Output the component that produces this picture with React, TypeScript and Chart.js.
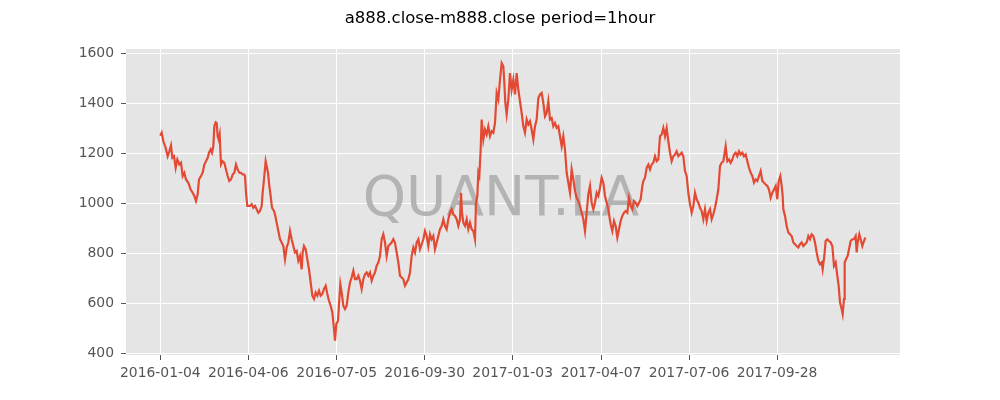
import React, { useEffect, useRef } from "react";
import { Chart, registerables } from "chart.js";

Chart.register(...registerables);

const chartTitle = "a888.close-m888.close period=1hour";
const watermarkText = "QUANT.LA";

const tickLabels = [
  "2016-01-04",
  "2016-04-06",
  "2016-07-05",
  "2016-09-30",
  "2017-01-03",
  "2017-04-07",
  "2017-07-06",
  "2017-09-28",
];
const tickIndex = [0, 264, 529, 793, 1057, 1322, 1586, 1850];
const yTicks = [400, 600, 800, 1000, 1200, 1400, 1600];

const barIndex = [
  0, 4, 9, 16, 22, 27, 32, 36, 41, 46, 51, 57, 62, 67, 72, 77, 84, 91, 97, 102,
  107, 112, 116, 122, 127, 132, 137, 142, 146, 151, 155, 159, 162, 166, 169, 172,
  175, 178, 182, 187, 192, 197, 202, 207, 212, 217, 222, 227, 232, 237, 242, 247,
  252, 254, 257, 261, 269, 274, 279, 284, 289, 294, 299, 304, 307, 311, 316, 319,
  323, 327, 331, 335, 341, 345, 349, 354, 359, 364, 369, 374, 379, 384, 389, 394,
  399, 404, 409, 414, 419, 424, 427, 431, 436, 441, 446, 451, 456, 461, 466, 471,
  476, 481, 486, 491, 496, 501, 506, 511, 516, 521, 524, 528, 533, 537, 540, 544,
  549, 554, 559, 564, 569, 574, 579, 584, 589, 594, 599, 604, 609, 614, 619, 624,
  629, 634, 639, 644, 649, 654, 659, 664, 669, 674, 679, 684, 689, 694, 699, 704,
  709, 714, 719, 724, 729, 734, 739, 744, 749, 754, 759, 764, 769, 774, 779, 784,
  789, 794, 799, 804, 809, 814, 819, 824, 829, 834, 839, 844, 849, 854, 859, 864,
  869, 874, 879, 884, 889, 894, 899, 902, 905, 909, 914, 919, 924, 929, 934, 939,
  944, 947, 951, 954, 957, 961, 964, 969, 974, 979, 984, 989, 994, 999, 1004, 1009,
  1014, 1019, 1024, 1029, 1032, 1035, 1039, 1044, 1049, 1054, 1059, 1064, 1069,
  1074, 1079, 1084, 1089, 1094, 1099, 1104, 1109, 1114, 1119, 1124, 1129, 1134,
  1139, 1144, 1149, 1154, 1159, 1164, 1169, 1174, 1179, 1184, 1189, 1194, 1199,
  1204, 1209, 1214, 1219, 1224, 1229, 1234, 1239, 1244, 1249, 1254, 1259, 1264,
  1269, 1274, 1279, 1284, 1289, 1294, 1299, 1304, 1309, 1314, 1319, 1324, 1329,
  1334, 1339, 1344, 1347, 1351, 1356, 1361, 1366, 1371, 1376, 1381, 1386, 1391,
  1396, 1401, 1406, 1411, 1416, 1421, 1426, 1431, 1436, 1441, 1446, 1449, 1454,
  1459, 1464, 1469, 1474, 1479, 1484, 1489, 1494, 1499, 1504, 1509, 1514, 1519,
  1524, 1529, 1534, 1539, 1544, 1549, 1554, 1559, 1564, 1569, 1574, 1579, 1584,
  1589, 1594, 1599, 1604, 1609, 1614, 1619, 1624, 1629, 1634, 1639, 1644, 1649,
  1654, 1659, 1664, 1669, 1674, 1679, 1684, 1689, 1696, 1701, 1706, 1711, 1716,
  1721, 1726, 1731, 1736, 1741, 1746, 1751, 1756, 1761, 1766, 1771, 1776, 1781,
  1786, 1791, 1796, 1801, 1806, 1811, 1816, 1821, 1826, 1831, 1836, 1841, 1846,
  1851, 1855, 1860, 1864, 1867, 1869, 1874, 1879, 1884, 1889, 1894, 1899, 1904,
  1909, 1914, 1919, 1924, 1929, 1934, 1939, 1944, 1949, 1954, 1959, 1964, 1969,
  1974, 1979, 1984, 1987, 1992, 1996, 2001, 2006, 2011, 2016, 2021, 2026, 2031,
  2035, 2039, 2044, 2047, 2051, 2053, 2057, 2062, 2066, 2071, 2076, 2081, 2086,
  2089, 2092, 2097, 2101, 2106, 2111, 2115,
];

const spread = [
  1270, 1282, 1248, 1222, 1188, 1208, 1231, 1182, 1188, 1142, 1175, 1155, 1162, 1109, 1122, 1095, 1082, 1055, 1042, 1029,
  1009, 1036, 1095, 1109, 1122, 1155, 1168, 1182, 1202, 1215, 1202, 1228, 1308, 1324, 1321, 1268,
  1255, 1275, 1155, 1168, 1162, 1135, 1109, 1089, 1095, 1115, 1122, 1155, 1135, 1122, 1122, 1115,
  1115, 1109, 1042, 989, 989, 996, 982, 989, 976, 962, 969, 989, 1042, 1095, 1168, 1149,
  1122, 1069, 1029, 982, 969, 949, 922, 889, 856, 843, 829, 776, 823, 843, 889, 856,
  829, 803, 809, 770, 789, 736, 803, 829, 816, 776, 736, 683, 630, 617, 643, 630,
  650, 630, 637, 657, 670, 637, 610, 590, 563, 497, 450, 517, 530, 617, 676, 643,
  590, 577, 590, 643, 683, 703, 730, 696, 696, 710, 690, 657, 696, 716, 723, 710,
  723, 690, 710, 723, 750, 763, 789, 856, 876, 843, 789, 829, 836, 843, 856, 843,
  803, 763, 710, 703, 696, 670, 683, 696, 723, 789, 823, 803, 843, 856, 816, 836,
  856, 889, 869, 829, 876, 856, 869, 816, 843, 869, 896, 909, 936, 909, 896, 936,
  962, 976, 956, 949, 936, 909, 936, 1042, 962, 922, 909, 936, 896, 922, 896, 889,
  856, 1002, 1029, 1122, 1109, 1215, 1335, 1255, 1295, 1275, 1308, 1268, 1288, 1282, 1321, 1441,
  1415, 1494, 1561, 1548, 1481, 1401, 1355, 1415, 1521, 1454, 1494, 1435, 1521,
  1454, 1408, 1361, 1308, 1282, 1335, 1315, 1328, 1295, 1255, 1308, 1335, 1421,
  1435, 1441, 1401, 1348, 1361, 1408, 1335, 1341, 1308, 1321, 1302, 1308, 1268,
  1228, 1268, 1215, 1122, 1082, 1042, 1135, 1095, 1049, 1022, 1009, 989, 962,
  936, 889, 962, 1036, 1069, 1002, 976, 1002, 1042, 1029, 1062, 1102, 1082,
  1029, 1002, 976, 949, 916, 889, 929, 909, 863, 896, 929, 949, 962,
  969, 962, 1022, 989, 976, 1009, 1002, 989, 1002, 1016, 1069, 1089, 1102,
  1142, 1155, 1135, 1155, 1162, 1188, 1168, 1175, 1268, 1275, 1301, 1268, 1301,
  1248, 1202, 1168, 1188, 1195, 1208, 1188, 1195, 1202, 1188, 1129, 1109, 1042,
  996, 962, 989, 1042, 1016, 1002, 982, 969, 936, 976, 929, 962, 976,
  936, 956, 982, 1016, 1055, 1149, 1162, 1168, 1228, 1168, 1175, 1162, 1175,
  1195, 1202, 1188, 1208, 1195, 1202, 1188, 1195, 1168, 1142, 1122, 1109, 1082,
  1095, 1089, 1109, 1129, 1089, 1082, 1075, 1069, 1055, 1022, 1042, 1055, 1069,
  1016, 1089, 1109, 1069, 1029, 976, 949, 909, 883, 876, 869, 843, 836,
  829, 823, 836, 843, 829, 836, 843, 869, 856, 876, 869, 843, 803,
  770, 756, 763, 736, 789, 849, 856, 849, 843, 829, 750, 763, 710,
  670, 603, 577, 557, 617, 763, 776, 789, 816, 849, 856, 856, 869,
  803, 843, 876, 856, 829, 849, 863,
];

export default function App() {
  const ref = useRef<HTMLCanvasElement>(null);

  useEffect(() => {
    if (!ref.current) return;
    const points = barIndex.map((x, i) => ({ x, y: spread[i] }));

    const decor = {
      id: "decor",
      beforeDraw(chart: any) {
        const { ctx, chartArea: a } = chart;
        ctx.save();
        ctx.fillStyle = "#E5E5E5";
        ctx.fillRect(a.left, a.top, a.right - a.left, a.bottom - a.top);
        ctx.restore();
      },
      beforeDatasetsDraw(chart: any) {
        const { ctx } = chart;
        ctx.save();
        ctx.font = "55px 'DejaVu Sans'";
        ctx.fillStyle = "#B3B3B3";
        ctx.textAlign = "center";
        ctx.textBaseline = "alphabetic";
        ctx.fillText(watermarkText, 501, 215);
        ctx.restore();
      },
      afterDraw(chart: any) {
        const { ctx } = chart;
        ctx.save();
        ctx.font = "16.5px 'DejaVu Sans'";
        ctx.fillStyle = "#000000";
        ctx.textAlign = "center";
        ctx.textBaseline = "alphabetic";
        ctx.fillText(chartTitle, 500, 22.5);
        ctx.restore();
      },
    };

    const tickFont = { family: "'DejaVu Sans'", size: 13.9 };

    const chart = new Chart(ref.current, {
      type: "line",
      data: {
        datasets: [
          {
            data: points,
            borderColor: "#E24A33",
            borderWidth: 2.2,
            pointRadius: 0,
            tension: 0,
            fill: false,
          },
        ],
      },
      options: {
        animation: false,
        responsive: false,
        layout: { padding: { top: 49, right: 100, left: 0, bottom: 0 } },
        plugins: {
          legend: { display: false },
          title: { display: false },
          tooltip: { enabled: false },
        },
        scales: {
          x: {
            type: "linear",
            min: -103,
            max: 2219,
            afterBuildTicks(scale: any) {
              scale.ticks = tickIndex.map((v) => ({ value: v }));
            },
            afterFit(scale: any) {
              scale.height = 45;
            },
            grid: {
              color: "#FFFFFF",
              lineWidth: 1,
              tickColor: "#555555",
              tickLength: 5,
              drawTicks: true,
            },
            border: { display: false },
            ticks: {
              autoSkip: false,
              maxRotation: 0,
              minRotation: 0,
              padding: 5,
              color: "#555555",
              font: tickFont,
              callback: (_v: any, i: number) => tickLabels[i],
            },
          },
          y: {
            type: "linear",
            min: 393,
            max: 1617,
            afterBuildTicks(scale: any) {
              scale.ticks = yTicks.map((v) => ({ value: v }));
            },
            afterFit(scale: any) {
              scale.width = 126;
            },
            grid: {
              color: "#FFFFFF",
              lineWidth: 1,
              tickColor: "#555555",
              tickLength: 5,
              drawTicks: true,
            },
            border: { display: false },
            ticks: {
              padding: 7,
              color: "#555555",
              font: tickFont,
              callback: (v: any) => String(v),
            },
          },
        },
      },
      plugins: [decor],
    });

    return () => chart.destroy();
  }, []);

  return (
    <div style={{ position: "fixed", left: 0, top: 0, width: 1000, height: 400, background: "#FFFFFF" }}>
      <canvas ref={ref} width={1000} height={400} style={{ display: "block", width: 1000, height: 400 }} />
    </div>
  );
}
